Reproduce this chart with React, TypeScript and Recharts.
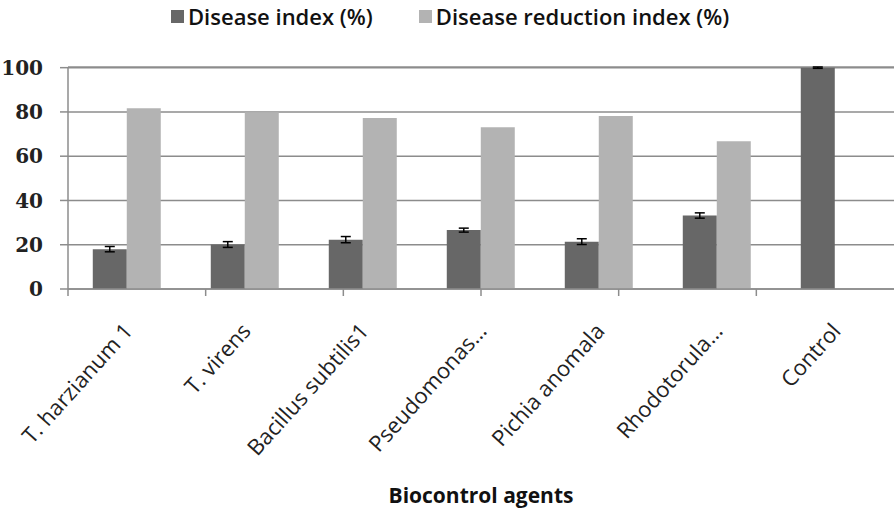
import React from 'react';
import { BarChart, Bar, XAxis, YAxis, CartesianGrid, Legend, ErrorBar } from 'recharts';

const categories = ['T. harzianum 1', 'T. virens', 'Bacillus subtilis1', 'Pseudomonas…', 'Pichia anomala', 'Rhodotorula…', 'Control'];
const diseaseIndex = [18, 20.1, 22.3, 26.6, 21.4, 33.2, 100];
const diseaseIndexErr = [1.2, 1.3, 1.4, 0.9, 1.3, 1.2, 0.3];
const reductionIndex: (number | null)[] = [81.7, 79.9, 77.3, 73.1, 78.2, 66.7, null];
const yTicks = [0, 20, 40, 60, 80, 100];
const edgeTicks = [0, 1, 2, 3, 4, 5, 6, 7];

const data = categories.map((name, i) => ({
  name,
  di: diseaseIndex[i],
  diErr: diseaseIndexErr[i],
  dri: reductionIndex[i],
}));

const DARK = '#676767';
const LIGHT = '#b3b3b3';
const GRID = '#8c8c8c';
const SANS = '"Open Sans", Lato, sans-serif';

const EmptyTick = () => <g />;

const XTick = (props: any) => {
  const { x, y, payload } = props;
  const ax = x + 7;
  const ay = y + 42;
  return (
    <text
      x={ax}
      y={ay}
      textAnchor="end"
      transform={`rotate(-48, ${ax}, ${ay})`}
      fontFamily={SANS}
      fontSize={22}
      fill="#222"
    >
      {payload.value}
    </text>
  );
};

const LegendContent = (props: any) => {
  const { payload } = props;
  return (
    <div style={{ display: 'flex', alignItems: 'center', fontFamily: SANS, fontSize: 22, fontWeight: 600, color: '#111', whiteSpace: 'nowrap' }}>
      {payload.map((p: any, i: number) => (
        <div key={i} style={{ display: 'flex', alignItems: 'center', marginRight: 46 }}>
          <span style={{ display: 'inline-block', width: 13, height: 13, background: p.color, marginRight: 4 }} />
          <span>{p.value}</span>
        </div>
      ))}
    </div>
  );
};

export default function App() {
  return (
    <div style={{ position: 'absolute', left: 0, top: 0, background: '#fff' }}>
      <BarChart
        width={896}
        height={511}
        data={data}
        margin={{ top: 67, right: 2, left: 0, bottom: 0 }}
        barCategoryGap="21%"
        barGap={0}
      >
        <CartesianGrid horizontal vertical={false} stroke={GRID} strokeWidth={1.5} />
        <XAxis
          xAxisId="a"
          type="number"
          domain={[0, 7]}
          ticks={edgeTicks}
          height={1}
          tick={<EmptyTick />}
          tickSize={7}
          stroke={GRID}
          strokeWidth={1.5}
          allowDataOverflow
        />
        <XAxis
          xAxisId="b"
          dataKey="name"
          height={221}
          axisLine={false}
          tickLine={false}
          tickSize={0}
          tickMargin={0}
          interval={0}
          tick={<XTick />}
          label={{ value: 'Biocontrol agents', position: 'insideBottom', offset: 8, style: { fontFamily: SANS, fontSize: 21, fontWeight: 700, fill: '#111' } }}
        />
        <YAxis
          domain={[0, 100]}
          ticks={yTicks}
          width={68}
          tickSize={8}
          tickMargin={17}
          stroke={GRID}
          strokeWidth={1.5}
          tick={{ fontFamily: '"DejaVu Serif", serif', fontSize: 20, fontWeight: 700, fill: '#222' }}
        />
        <Legend
          layout="horizontal"
          verticalAlign="middle"
          align="center"
          wrapperStyle={{ top: 1, left: 171, width: 720, height: 30 }}
          content={<LegendContent />}
        />
        <Bar xAxisId="b" dataKey="di" name="Disease index (%)" fill={DARK} isAnimationActive={false}>
          <ErrorBar dataKey="diErr" width={5} stroke="#000" strokeWidth={1.5} />
        </Bar>
        <Bar xAxisId="b" dataKey="dri" name="Disease reduction index (%)" fill={LIGHT} isAnimationActive={false} />
      </BarChart>
    </div>
  );
}
